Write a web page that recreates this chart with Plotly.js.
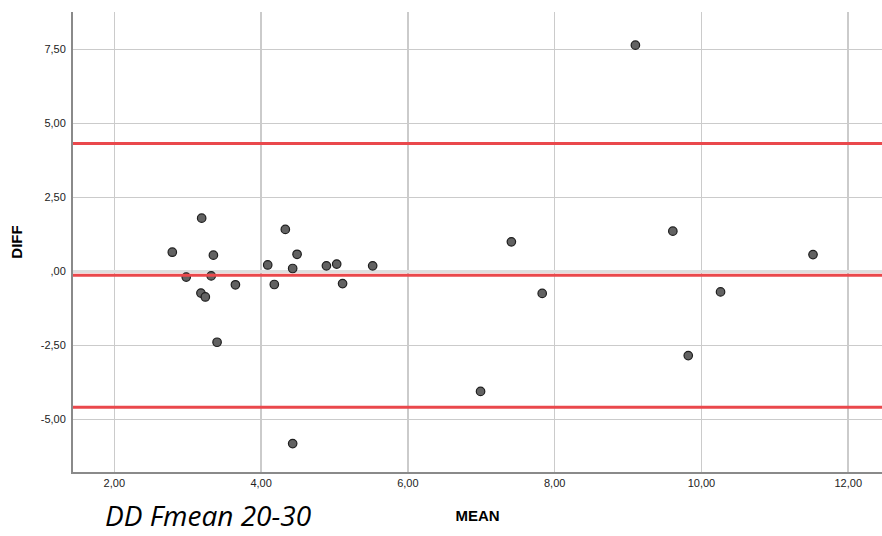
<!DOCTYPE html>
<html>
<head>
<meta charset="utf-8">
<script src="https://cdn.plot.ly/plotly-3.0.1.min.js"></script>
<style>
  html, body { margin: 0; padding: 0; background: #ffffff; }
  #chart { width: 882px; height: 536px; }
</style>
</head>
<body>
<div id="chart"></div>
<script>
// Bland-Altman style plot: mean of two measurements vs. their difference
const meanValues = [2.79, 2.98, 3.19, 3.18, 3.24, 3.35, 3.32, 3.40, 3.65,
                    4.09, 4.18, 4.33, 4.43, 4.49, 4.43, 4.89, 5.03, 5.11, 5.52,
                    6.99, 7.41, 7.83, 9.10, 9.61, 9.82, 10.26, 11.52];
const diffValues = [0.65, -0.19, 1.80, -0.73, -0.86, 0.55, -0.15, -2.39, -0.45,
                    0.22, -0.44, 1.42, 0.10, 0.58, -5.81, 0.19, 0.25, -0.41, 0.19,
                    -4.05, 1.00, -0.74, 7.64, 1.36, -2.84, -0.69, 0.57];

// Mean difference and limits of agreement
const meanDiff = -0.13;
const upperLimit = 4.32;
const lowerLimit = -4.58;
const refLines = [upperLimit, meanDiff, lowerLimit];

const yTickVals = [-5, -2.5, 0, 2.5, 5, 7.5];
const yTickText = ['-5,00', '-2,50', ',00', '2,50', '5,00', '7,50'];
const xTickVals = [2, 4, 6, 8, 10, 12];
const xTickText = ['2,00', '4,00', '6,00', '8,00', '10,00', '12,00'];

const points = {
  type: 'scatter',
  mode: 'markers',
  x: meanValues,
  y: diffValues,
  marker: {
    size: 8.5,
    color: '#626262',
    line: { color: '#1e1e1e', width: 1.2 }
  },
  hoverinfo: 'x+y',
  showlegend: false
};

const shapes = refLines.map(v => ({
  type: 'line',
  xref: 'paper', x0: 0, x1: 1,
  yref: 'y', y0: v, y1: v,
  line: { color: 'rgb(234,72,76)', width: 3 },
  layer: 'above'
}));

const layout = {
  width: 882,
  height: 536,
  margin: { l: 73, r: 0, t: 12, b: 64 },
  paper_bgcolor: '#ffffff',
  plot_bgcolor: '#ffffff',
  font: { family: 'Liberation Sans, Arial, sans-serif', color: '#222222', size: 11 },
  xaxis: {
    range: [1.437, 12.46],
    tickvals: xTickVals,
    ticktext: xTickText,
    showgrid: true,
    gridcolor: '#cbcbcb',
    gridwidth: 1.5,
    zeroline: false,
    showline: true,
    linecolor: '#8a8a8a',
    linewidth: 2,
    ticks: '',
    tickfont: { size: 11, color: '#222222' },
    title: {
      text: 'MEAN',
      font: { size: 15, color: '#000000', family: 'Liberation Sans, Arial, sans-serif', weight: 'bold' },
      standoff: 22
    },
    automargin: false
  },
  yaxis: {
    range: [-6.77, 8.76],
    tickvals: yTickVals,
    ticktext: yTickText,
    showgrid: true,
    gridcolor: '#cbcbcb',
    gridwidth: 1.5,
    zeroline: true,
    zerolinecolor: '#dedede',
    zerolinewidth: 3.5,
    showline: true,
    linecolor: '#8a8a8a',
    linewidth: 2,
    ticks: '',
    ticklabelstandoff: 3,
    tickfont: { size: 11, color: '#222222' },
    title: {
      text: 'DIFF',
      font: { size: 15, color: '#000000', family: 'Liberation Sans, Arial, sans-serif', weight: 'bold' },
      standoff: 14
    },
    automargin: false
  },
  shapes: shapes,
  annotations: [{
    text: '<i>DD Fmean 20-30</i>',
    xref: 'paper', yref: 'paper',
    x: (103 - 73) / 809, y: -0.093,
    xanchor: 'left', yanchor: 'middle',
    showarrow: false,
    font: { family: 'Open Sans, sans-serif', size: 28, color: '#000000' }
  }]
};

Plotly.newPlot('chart', [points], layout, { displayModeBar: false, staticPlot: true });
</script>
</body>
</html>
